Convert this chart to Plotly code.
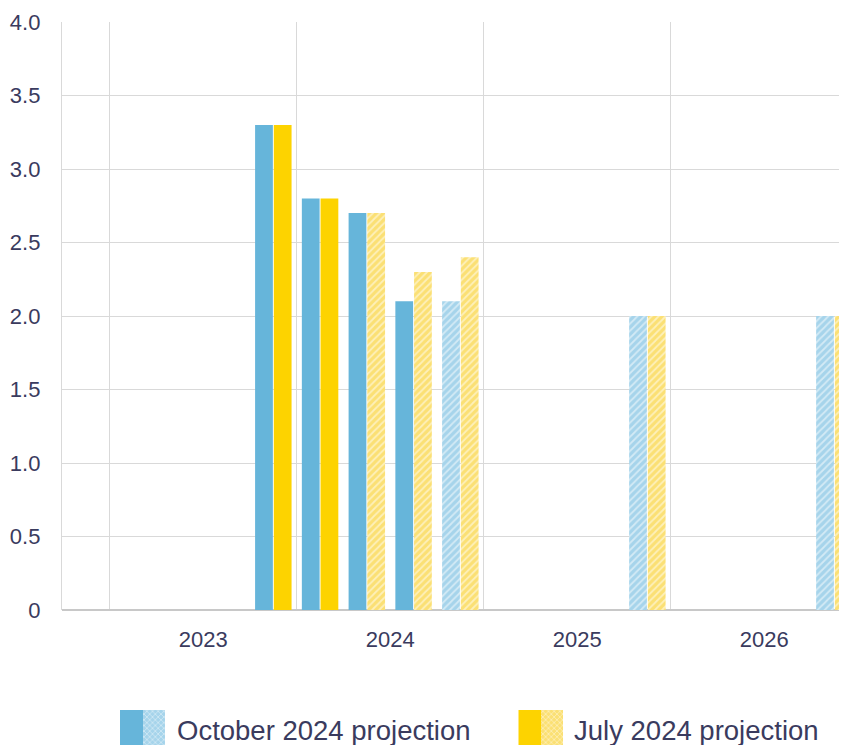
import plotly.graph_objects as go

# ---- data ----
quarters = ["2023 Q4", "2024 Q1", "2024 Q2", "2024 Q3", "2024 Q4", "2025 Q4", "2026 Q4"]
quarter_index = [3, 4, 5, 6, 7, 11, 15]          # quarters counted from 2023 Q1 = 0
october_2024 = [3.3, 2.8, 2.7, 2.1, 2.1, 2.0, 2.0]
october_is_projection = [False, False, False, False, True, True, True]
july_2024 = [3.3, 2.8, 2.7, 2.3, 2.4, 2.0, 2.0]
july_is_projection = [False, False, True, True, True, True, True]
year_labels = ["2023", "2024", "2025", "2026"]
year_centres = [1.5, 5.5, 9.5, 13.5]
y_tick_values = [0, 0.5, 1.0, 1.5, 2.0, 2.5, 3.0, 3.5, 4.0]
y_tick_labels = ["0", "0.5", "1.0", "1.5", "2.0", "2.5", "3.0", "3.5", "4.0"]
series_names = ["October 2024 projection", "July 2024 projection"]

# ---- styles ----
BLUE = "#66B5DA"
BLUE_LIGHT = "#A6D4EB"
YELLOW = "#FDD300"
YELLOW_LIGHT = "#FBE074"
TEXT = "#3a3b5e"
GRID = "#d9d9d9"
FONT = "Liberation Sans, Arial, sans-serif"

# page body has an 8px margin, so the figure is offset by (8, 8)
OFF = 8
W, H = 847 - OFF, 753 - 2 * OFF
ML, MT = 62 - OFF, 22 - OFF
plot_bottom = 610 - OFF
plot_h = H - MT
page_bottom = H + OFF

fig = go.Figure()


def add_series(values, flags, solid, light, group, name):
    for proj in (False, True):
        xs = [q for q, f in zip(quarter_index, flags) if f == proj]
        ys = [v for v, f in zip(values, flags) if f == proj]
        labels = [l for l, f in zip(quarters, flags) if f == proj]
        if proj:
            marker = dict(color=light, line=dict(width=0),
                          pattern=dict(shape="/", fillmode="replace", bgcolor=light,
                                       fgcolor="#ffffff", fgopacity=0.5, size=5, solidity=0.35))
        else:
            marker = dict(color=solid, line=dict(width=0))
        fig.add_trace(go.Bar(x=xs, y=ys, name=name, offsetgroup=group, marker=marker,
                             hovertext=labels, showlegend=False))


add_series(october_2024, october_is_projection, BLUE, BLUE_LIGHT, "oct", series_names[0])
add_series(july_2024, july_is_projection, YELLOW, YELLOW_LIGHT, "jul", series_names[1])

# ---- custom legend (solid + hatched icon) on a helper axis pair (page px coords) ----
icon_x = [(131.5, 154), (530, 552)]
legend_colors = [(BLUE, BLUE_LIGHT), (YELLOW, YELLOW_LIGHT)]
for (xs, xh), (solid, light) in zip(icon_x, legend_colors):
    fig.add_trace(go.Bar(x=[xs], y=[page_bottom - 710], base=[710], width=[23],
                         xaxis="x2", yaxis="y2", showlegend=False, hoverinfo="skip",
                         marker=dict(color=solid, line=dict(width=0))))
    fig.add_trace(go.Bar(x=[xh], y=[page_bottom - 710], base=[710], width=[22],
                         xaxis="x2", yaxis="y2", showlegend=False, hoverinfo="skip",
                         marker=dict(color=light, line=dict(width=0),
                                     pattern=dict(shape="x", fillmode="replace", bgcolor=light,
                                                  fgcolor="#ffffff", fgopacity=0.6,
                                                  size=4, solidity=0.3))))
legend_text_x = [175, 572]
for tx, name in zip(legend_text_x, series_names):
    fig.add_annotation(x=tx, y=730, xref="x2", yref="y2", text=name, showarrow=False,
                       xanchor="left", yanchor="middle",
                       font=dict(size=27.5, color=TEXT, family=FONT))

main_bottom = (H - plot_bottom) / plot_h
fig.update_layout(
    width=W, height=H,
    margin=dict(l=ML, r=0, t=MT, b=0, autoexpand=False),
    paper_bgcolor="white", plot_bgcolor="white",
    barmode="group", bargap=0.2, bargroupgap=0.05,
    font=dict(family=FONT, color=TEXT, size=22),
    xaxis=dict(
        domain=[0, 1], range=[-1.52, 15.27], automargin=False,
        tickmode="array", tickvals=year_centres, ticktext=year_labels,
        showgrid=False, zeroline=False, ticks="", ticklabelstandoff=14,
        tickfont=dict(size=22, color=TEXT),
        minor=dict(tickmode="linear", tick0=-0.5, dtick=4, showgrid=True,
                   gridcolor=GRID, gridwidth=1.3, ticks=""),
        showline=False,
    ),
    yaxis=dict(
        domain=[main_bottom, 1], range=[0, 4.0], automargin=False,
        tickmode="array", tickvals=y_tick_values, ticktext=y_tick_labels,
        showgrid=True, gridcolor=GRID, gridwidth=1.3,
        zeroline=True, zerolinecolor="#c8c8c8", zerolinewidth=1.5,
        showline=True, linecolor=GRID, linewidth=1.3,
        ticks="", ticklabelstandoff=16,
        tickfont=dict(size=22, color=TEXT),
    ),
    xaxis2=dict(domain=[0, 1], range=[62, 847], visible=False, anchor="y2", fixedrange=True,
                automargin=False),
    yaxis2=dict(domain=[0, (page_bottom - 700) / plot_h], range=[page_bottom, 700], visible=False,
                anchor="x2", fixedrange=True, automargin=False),
)

fig.write_html("out.html")
